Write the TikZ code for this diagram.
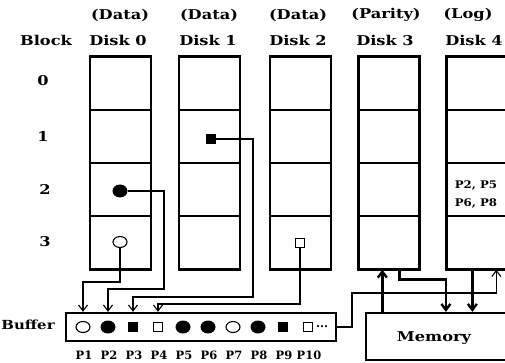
\documentclass[tikz,border=0pt]{standalone}
\usepackage{fontspec}
\setmainfont{DejaVu Serif}
\newfontfamily\lab{DejaVu Serif}[FakeStretch=1.2]
\newfontfamily\labl{DejaVu Serif}[FakeStretch=1.12]
\usetikzlibrary{arrows.meta,calc,shapes.geometric}
\begin{document}
\begin{tikzpicture}[x=1pt,y=-1pt,
  blk/.style={draw,line width=1.3pt,minimum width=60pt,minimum height=53pt,inner sep=0pt},
  outline/.style={line width=2.2pt},
  conn/.style={line width=1.1pt},
  heavy/.style={line width=2.4pt},
  arr/.style={-{Straight Barb[length=6pt,width=9pt]}},
  hdr/.style={font=\lab\bfseries\fontsize{13.5}{15}\selectfont,inner sep=0pt},
  small/.style={font=\bfseries\fontsize{11.5}{13}\selectfont,inner sep=0pt},
  logt/.style={font=\labl\bfseries\fontsize{10.5}{12}\selectfont,inner sep=0pt},
  ocirc/.style={ellipse,draw,line width=1.1pt,minimum width=14pt,minimum height=11pt,inner sep=0pt},
  fcirc/.style={ellipse,fill=black,minimum width=15pt,minimum height=13pt,inner sep=0pt},
  fsq/.style={rectangle,fill=black,minimum size=10pt,inner sep=0pt},
  osq/.style={rectangle,draw,line width=1.1pt,minimum size=9pt,inner sep=0pt},
  boxs/.style={draw,line width=2.2pt,inner sep=0pt}]
\clip (0,0) rectangle (505,363);
\fill[white] (0,0) rectangle (505,363);
% headers
\node[hdr] (blockhd) at (46,40) {Block};
\node[hdr] (h0a) at (120,15) {(Data)};
\node[hdr] (h0b) at (118,40) {Disk 0};
\node[hdr] (h1a) at (209,15) {(Data)};
\node[hdr] (h1b) at (208,40) {Disk 1};
\node[hdr] (h2a) at (298,15) {(Data)};
\node[hdr] (h2b) at (298,40) {Disk 2};
\node[hdr] (h3a) at (386,15) {(Parity)};
\node[hdr] (h3b) at (385,40) {Disk 3};
\node[hdr] (h4a) at (468,15) {(Log)};
\node[hdr] (h4b) at (474,40) {Disk 4};
% row labels
\node[hdr] (r0) at (43,81) {0};
\node[hdr] (r1) at (43,136) {1};
\node[hdr] (r2) at (45,189) {2};
\node[hdr] (r3) at (45,242) {3};
% disks
\foreach \d/\x in {0/120.5,1/209.5,2/300.5,3/389,4/477}{
  \foreach \r/\y in {0/83.5,1/136.5,2/189.5,3/242.5}{
    \node[blk] (d\d r\r) at (\x,\y) {};
  }
  \draw[outline] (d\d r0.north west) rectangle (d\d r3.south east);
}
% contents
\node[fcirc] (c02) at (120,191) {};
\node[ocirc] (c03) at (120,242) {};
\node[fsq] (c11) at (211,139) {};
\node[osq] (c23) at (300,243) {};
\node[logt] (logA) at (476,185) {P2, P5};
\node[logt] (logB) at (476,203) {P6, P8};
% buffer
\node[boxs,minimum width=270pt,minimum height=28pt] (buf) at (201,327) {};
\node[hdr,font=\lab\bfseries\fontsize{12.5}{14}\selectfont] (buflab) at (28,325) {Buffer};
\node[ocirc] (s1) at (83,327) {};
\node[fcirc] (s2) at (108,327) {};
\node[fsq] (s3) at (133,327) {};
\node[osq] (s4) at (158,327) {};
\node[fcirc] (s5) at (183,327) {};
\node[fcirc] (s6) at (208,327) {};
\node[ocirc] (s7) at (233,327) {};
\node[fcirc] (s8) at (258,327) {};
\node[fsq] (s9) at (283,327) {};
\node[osq] (s10) at (308,327) {};
\node[small] (dots) at (322,327) {...};
\foreach \i in {1,...,10}{
  \node[small] (p\i) at ($(s\i)+(1,28)$) {P\i};
}
% memory
\node[boxs,minimum width=160pt,minimum height=47pt] (mem) at (446,336.5) {};
\node[hdr] (memt) at (434,338) {Memory};
% coordinates on disk bottoms
\coordinate (a3) at ($(d3r3.south west)+(24,0)$);
\coordinate (b3) at ($(d3r3.south west)+(41,0)$);
\coordinate (a4) at ($(d4r3.south west)+(26,0)$);
\coordinate (b4) at ($(d4r3.south west)+(50,0)$);
\coordinate (m3) at ($(mem.north west)+(81,0)$);
% connectors to buffer
\draw[conn,arr] (c03.south) |- (100,282) -| (s1 |- buf.north);
\draw[conn,arr] (c02.east) -| (164,289) -| (s2 |- buf.north);
\draw[conn,arr] (c11.east) -| (253,297) -| (s3 |- buf.north);
\draw[conn,arr] (c23.south) |- (200,304) -| (s4 |- buf.north);
% buffer to log disk
\draw[conn,arr] (buf.east) -| (352,293) -| (b4);
% memory connectors
\draw[heavy,arr] (a3 |- mem.north) -- (a3);
\draw[heavy,arr] (b3) -- ++(0,10) -| (m3);
\draw[heavy,arr] (a4) -- (a4 |- mem.north);
\end{tikzpicture}
\end{document}
